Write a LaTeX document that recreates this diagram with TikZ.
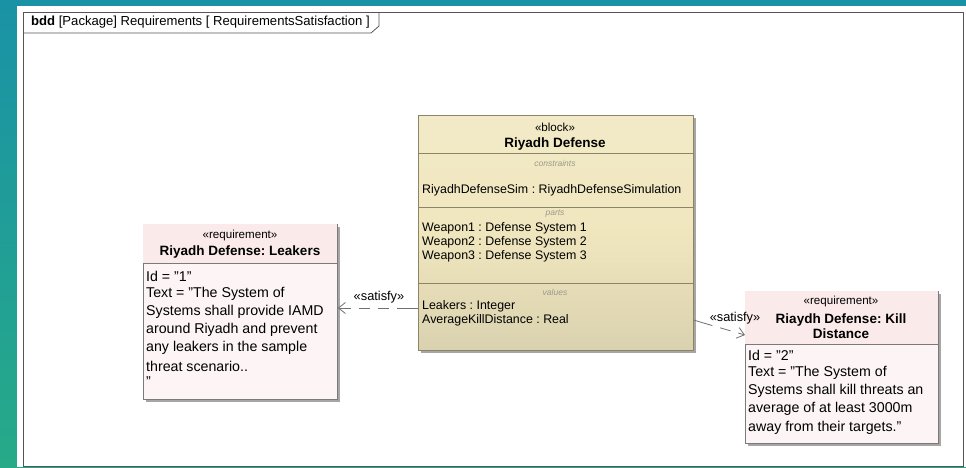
\documentclass[tikz,border=0pt]{standalone}
\usepackage{fontspec}
\setmainfont{Liberation Sans}
\usetikzlibrary{arrows.meta,shadows}
\frenchspacing
\newcommand{\dq}{\symbol{34}}
\definecolor{bgtop}{HTML}{1A92A6}
\definecolor{bgbot}{HTML}{26AA88}
\definecolor{framec}{HTML}{555555}
\definecolor{blkfill}{HTML}{F0E6BE}
\definecolor{blkedge}{HTML}{8C8466}
\definecolor{reqfill}{HTML}{FDF5F5}
\definecolor{reqhead}{HTML}{FBEAEA}
\definecolor{reqedge}{HTML}{7A7A7A}
\definecolor{linkc}{HTML}{707070}
\definecolor{seclbl}{HTML}{9A9A8A}
\tikzset{
  boxshadow/.style={drop shadow={shadow xshift=2.5pt,shadow yshift=-2.5pt,fill=black,opacity=.35}},
  blockbox/.style={draw=blkedge,line width=.8pt,top color=blkfill!85!white,bottom color=blkfill!90!black!95,
    middle color=blkfill,anchor=north west,inner sep=0pt,boxshadow},
  reqbox/.style={draw=reqedge,line width=.8pt,fill=reqfill,anchor=north west,inner sep=0pt,boxshadow},
  stereo/.style={font=\fontsize{11.6}{13}\selectfont,inner sep=0pt},
  titletxt/.style={font=\fontsize{13.5}{15}\selectfont\bfseries,inner sep=0pt},
  secname/.style={font=\fontsize{8.5}{9}\selectfont\itshape,text=seclbl,inner sep=0pt},
  blkline/.style={font=\fontsize{12.4}{14}\selectfont,anchor=west,inner sep=0pt},
  reqline/.style={font=\fontsize{14.2}{16}\selectfont,anchor=west,inner sep=0pt},
  satisfy/.style={draw=linkc,line width=.8pt,dash pattern=on 11pt off 8pt,
    -{Straight Barb[length=7pt,width=11pt,line width=.8pt]}},
  linklbl/.style={font=\fontsize{12.8}{14}\selectfont,inner sep=0pt}
}
\begin{document}
\begin{tikzpicture}[x=1pt,y=-1pt]
\useasboundingbox (0,0) rectangle (966,467);
% backdrop and white sheet
\shade[top color=bgtop,bottom color=bgbot] (0,0) rectangle (966,467);
\fill[white] (17,6) rectangle (966,467);
% diagram frame with its name tab
\draw[framec,line width=.9pt] (23,12) rectangle (963,466);
\draw[framec,line width=.8pt] (23,33) -- (371,33) -- (379,26) -- (379,12);
\node[anchor=west,inner sep=0pt,font=\fontsize{13.1}{15}\selectfont] (hdr) at (31,22)
  {\textbf{bdd} [Package] Requirements [ RequirementsSatisfaction ]};

% block Riyadh Defense
\node[blockbox,minimum width=275pt,minimum height=235pt] (blk) at (418,115) {};
\draw[blkedge,line width=.7pt] (418,153) -- (693,153);
\draw[blkedge,line width=.7pt] (418,207) -- (693,207);
\draw[blkedge,line width=.7pt] (418,283) -- (693,283);
\node[stereo] (blkst) at (555,127) {«block»};
\node[titletxt] (blkname) at (555,144) {Riyadh Defense};
\node[secname] (seccon) at (555,163) {constraints};
\node[blkline] (con1) at (422,190) {RiyadhDefenseSim : RiyadhDefenseSimulation};
\node[secname] (secparts) at (555,214) {parts};
\node[blkline] (p1) at (422,228) {Weapon1 : Defense System 1};
\node[blkline] (p2) at (422,242) {Weapon2 : Defense System 2};
\node[blkline] (p3) at (422,256) {Weapon3 : Defense System 3};
\node[secname] (secval) at (555,292) {values};
\node[blkline] (v1) at (422,306) {Leakers : Integer};
\node[blkline] (v2) at (422,320) {AverageKillDistance : Real};

% requirement: Leakers
\node[reqbox,minimum width=194pt,minimum height=175pt] (reqA) at (143,224) {};
\fill[reqhead] ([shift={(.4pt,-.4pt)}]reqA.north west) rectangle (336.6,263);
\draw[reqedge,line width=.7pt] (143,263) -- (337,263);
\node[stereo] (reqAst) at (240,235) {«requirement»};
\node[titletxt] (reqAname) at (240,252) {Riyadh Defense: Leakers};
\node[reqline] (a1) at (146,276) {Id = \dq1\dq};
\node[reqline] (a2) at (146,294) {Text = \dq The System of};
\node[reqline] (a3) at (146,312) {Systems shall provide IAMD};
\node[reqline] (a4) at (146,330) {around Riyadh and prevent};
\node[reqline] (a5) at (146,348) {any leakers in the sample};
\node[reqline] (a6) at (146,366) {threat scenario..};
\node[reqline] (a7) at (146,382) {\dq};

% requirement: Kill Distance
\node[reqbox,minimum width=193pt,minimum height=152pt] (reqB) at (745,291) {};
\fill[reqhead] ([shift={(.4pt,-.4pt)}]reqB.north west) rectangle (937.6,344);
\draw[reqedge,line width=.7pt] (745,344) -- (938,344);
\node[stereo] (reqBst) at (841,301) {«requirement»};
\node[titletxt,align=center] (reqBname) at (841,326) {Riaydh Defense: Kill\\Distance};
\node[reqline] (b1) at (748,355) {Id = \dq2\dq};
\node[reqline] (b2) at (748,373) {Text = \dq The System of};
\node[reqline] (b3) at (748,391) {Systems shall kill threats an};
\node[reqline] (b4) at (748,409) {average of at least 3000m};
\node[reqline] (b5) at (748,428) {away from their targets.\dq};

% satisfy dependencies
\coordinate (sA) at (blk.west |- 0,308);
\coordinate (tA) at (reqA.east |- 0,308);
\draw[linkc,line width=.8pt] (sA) -- ++(-10,0);
\draw[satisfy] ([xshift=-10pt]sA) -- (tA);
\node[linklbl] (lblA) at (379,297) {«satisfy»};

\coordinate (sB) at (blk.east |- 0,320);
\coordinate (tB) at (reqB.west |- 0,335);
\draw[linkc,line width=.8pt] (sB) -- ++(8,2.5);
\draw[satisfy] ([shift={(8pt,-2.5pt)}]sB) -- (tB);
\node[linklbl] (lblB) at (735,318) {«satisfy»};
\end{tikzpicture}
\end{document}
